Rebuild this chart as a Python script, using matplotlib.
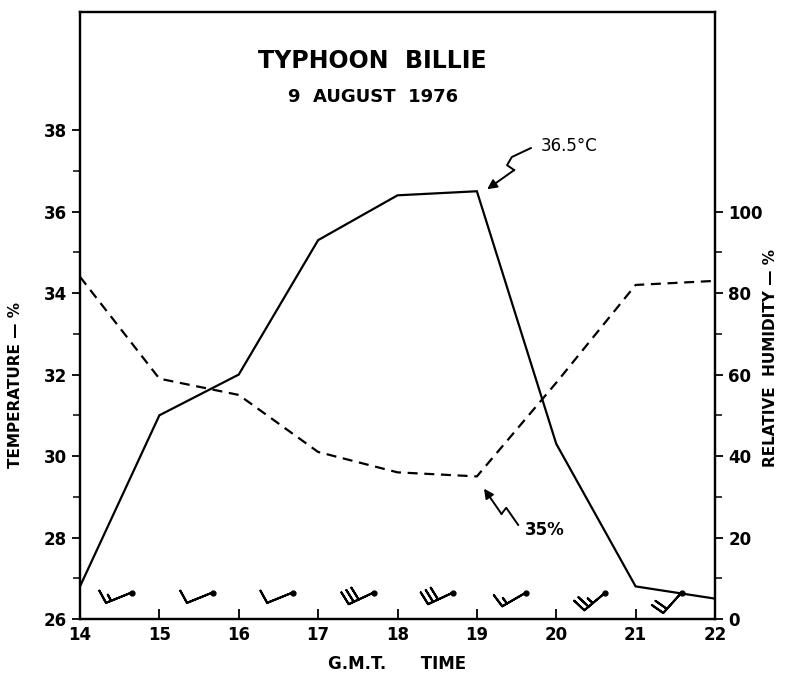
import numpy as np
import matplotlib
matplotlib.use("Agg")
import matplotlib.pyplot as plt

# hourly observations, 9 Aug 1976
hours = [14, 15, 16, 17, 18, 19, 20, 21, 22]
temp_c = [26.8, 31.0, 32.0, 35.3, 36.4, 36.5, 30.3, 26.8, 26.5]
rel_hum = [84, 59, 55, 41, 36, 35, 58, 82, 83]

# wind barbs between the hours
wind_hours = [14.65, 15.67, 16.68, 17.70, 18.70, 19.62, 20.62, 21.58]
wind_dir = [248, 248, 248, 245, 245, 240, 230, 222]   # degrees, direction wind comes from
wind_kt = [15, 10, 10, 30, 30, 15, 25, 20]

plt.rcParams['font.family'] = ['DejaVu Sans']
plt.rcParams['font.weight'] = 'bold'

fig = plt.figure(figsize=(7.85, 6.79), dpi=100)
ax = fig.add_axes([80/785, 60/679, 635/785, 607/679])
ax2 = ax.twinx()

ax.plot(hours, temp_c, color='black', lw=1.6, solid_joinstyle='miter')
ax2.plot(hours, rel_hum, color='black', lw=1.6, ls=(0, (4.5, 3)))

ax.set_xlim(14, 22)
ax.set_ylim(26, 40.9)
ax2.set_ylim(0, 149)

ax.set_xticks(hours)
ax.set_yticks([26, 28, 30, 32, 34, 36, 38])
ax.set_yticks([27, 29, 31, 33, 35, 37], minor=True)
ax2.set_yticks([0, 20, 40, 60, 80, 100])
ax2.set_yticks([10, 30, 50, 70, 90], minor=True)

ax.tick_params(axis='x', direction='in', length=7, width=1.3, labelsize=12, pad=5, top=False)
ax.tick_params(axis='y', which='major', direction='out', length=6, width=1.3, labelsize=12)
ax.tick_params(axis='y', which='minor', direction='out', length=5, width=1.1)
ax2.tick_params(axis='y', which='major', direction='out', length=6, width=1.3, labelsize=12)
ax2.tick_params(axis='y', which='minor', direction='out', length=5, width=1.1)
for a in (ax, ax2):
    for s in a.spines.values():
        s.set_linewidth(1.6)

ax.set_xlabel('G.M.T.      TIME', fontsize=12, fontweight='bold', labelpad=8)
ax.set_ylabel('TEMPERATURE — %', fontsize=11, fontweight='bold')
ax.yaxis.set_label_coords(-0.09, 0.385)
ax2.set_ylabel('RELATIVE  HUMIDITY — %', fontsize=11, fontweight='bold', rotation=90)
ax2.yaxis.set_label_coords(1.075, 0.43)

ax.text(0.461, 0.92, 'TYPHOON  BILLIE', transform=ax.transAxes, ha='center', va='center',
        fontsize=17, fontweight='bold')
ax.text(0.461, 0.86, '9  AUGUST  1976', transform=ax.transAxes, ha='center', va='center',
        fontsize=13, fontweight='bold')

# wind barbs
rad = np.deg2rad(wind_dir)
u = -np.array(wind_kt) * np.sin(rad)
v = -np.array(wind_kt) * np.cos(rad)
station_y = [26.65] * len(wind_hours)
ax.barbs(wind_hours, station_y, u, v, length=6.3, pivot='tip',
         color='black', linewidth=1.5, barb_increments=dict(half=5, full=10, flag=50),
         sizes=dict(spacing=0.2, height=0.5, width=0.12, emptybarb=0.0), clip_on=False)
ax.plot(wind_hours, station_y, 'o', color='black', ms=3.5, ls='none')

# squiggle pointers
def squiggle(xs, ys):
    ax.plot(xs[:-1], ys[:-1], color='black', lw=1.4)
    ax.annotate('', xy=(xs[-1], ys[-1]), xytext=(xs[-2], ys[-2]),
                arrowprops=dict(arrowstyle='-|>', color='black', lw=1.4,
                                mutation_scale=14, shrinkA=0, shrinkB=0))

ax.text(19.81, 37.62, '36.5°C', fontsize=12, fontweight='normal', va='center', ha='left')
squiggle([19.68, 19.44, 19.38, 19.47, 19.13], [37.56, 37.34, 37.14, 37.02, 36.55])

ax.text(19.6, 28.19, '35%', fontsize=12, fontweight='bold', va='center', ha='left')
squiggle([19.52, 19.37, 19.31, 19.09], [28.31, 28.73, 28.58, 29.2])

fig.savefig('out.png', dpi=100)
